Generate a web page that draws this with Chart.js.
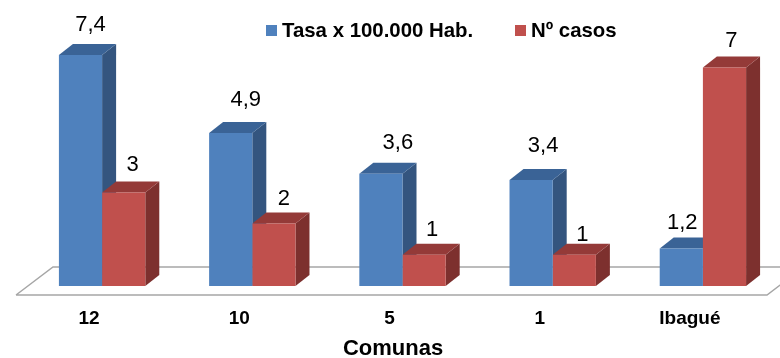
<!DOCTYPE html>
<html>
<head>
<meta charset="utf-8">
<title>Tasa por comuna</title>
<script src="https://cdn.jsdelivr.net/npm/chart.js@4"></script>
<style>
  html, body { margin: 0; padding: 0; background: #fff; }
  canvas { display: block; }
</style>
</head>
<body>
<canvas id="chart" width="780" height="358"></canvas>
<script>
const categories = ['12', '10', '5', '1', 'Ibagué'];
const tasa = [7.4, 4.9, 3.6, 3.4, 1.2];
const casos = [3, 2, 1, 1, 7];
const axisTitle = 'Comunas';

const FONT = '"Liberation Sans", Arial, sans-serif';
const DEPTH_X = 14;
const DEPTH_Y = 11;

// the labels were moved by hand in the original, so each one has its own nudge
const labelNudge = [
    [[10, -30], [9, -27]],
    [[15, -33], [10, -25]],
    [[17, -31], [8, -25]],
    [[12, -34], [8, -20]],
    [[1, -26], [7, -27]]
];

function poly(ctx, color, pts) {
    ctx.fillStyle = color;
    ctx.beginPath();
    pts.forEach((p, i) => i ? ctx.lineTo(p[0], p[1]) : ctx.moveTo(p[0], p[1]));
    ctx.closePath();
    ctx.fill();
}

const bars3d = {
    id: 'bars3d',
    // floor plane, then side and top faces. Chart.js paints the fronts over these
    beforeDatasetsDraw(chart) {
        const { ctx, chartArea } = chart;
        const y0 = chartArea.bottom + 9;
        const y1 = chartArea.bottom - 19;
        ctx.save();
        ctx.strokeStyle = '#a6a6a6';
        ctx.lineWidth = 1.5;
        ctx.beginPath();
        ctx.moveTo(chartArea.left - 11, y0);
        ctx.lineTo(chartArea.left + 26, y1);
        ctx.lineTo(chartArea.right + 30, y1);
        ctx.moveTo(chartArea.left - 11, y0);
        ctx.lineTo(chartArea.right - 11, y0);
        ctx.lineTo(chartArea.right + 26, y1);
        ctx.stroke();

        chart.data.datasets.forEach((ds, d) => {
            chart.getDatasetMeta(d).data.forEach(bar => {
                const { x, y, base, width } = bar.getProps(['x', 'y', 'base', 'width'], true);
                const l = x - width / 2;
                const r = x + width / 2;
                poly(ctx, ds.sideColor, [[r, y], [r + DEPTH_X, y - DEPTH_Y], [r + DEPTH_X, base - DEPTH_Y], [r, base]]);
                poly(ctx, ds.topColor, [[l, y], [l + DEPTH_X, y - DEPTH_Y], [r + DEPTH_X, y - DEPTH_Y], [r, y]]);
            });
        });
        ctx.restore();
    },
    afterDatasetsDraw(chart) {
        const ctx = chart.ctx;
        ctx.save();
        ctx.textAlign = 'center';
        ctx.textBaseline = 'middle';
        // value labels
        ctx.font = '22px ' + FONT;
        ctx.fillStyle = '#000';
        chart.data.datasets.forEach((ds, d) => {
            chart.getDatasetMeta(d).data.forEach((bar, i) => {
                const n = labelNudge[i][d];
                ctx.fillText(String(ds.data[i]).replace('.', ','), bar.x + n[0], bar.y + n[1]);
            });
        });
        // axis title sits left of the plot centre in the original
        ctx.font = 'bold 22px ' + FONT;
        ctx.fillText(axisTitle, 393, 349);
        // legend
        ctx.textAlign = 'left';
        ctx.font = 'bold 20.4px ' + FONT;
        [266, 515].forEach((x, d) => {
            const ds = chart.data.datasets[d];
            ctx.fillStyle = ds.backgroundColor;
            ctx.fillRect(x, 25, 11, 11);
            ctx.fillStyle = '#000';
            ctx.fillText(ds.label, x + 16, 31);
        });
        ctx.restore();
    }
};

new Chart(document.getElementById('chart'), {
    type: 'bar',
    plugins: [bars3d],
    data: {
        labels: categories,
        datasets: [{
            label: 'Tasa x 100.000 Hab.',
            data: tasa,
            backgroundColor: '#4f81bd',
            sideColor: '#34557f',
            topColor: '#3a6396'
        }, {
            label: 'Nº casos',
            data: casos,
            backgroundColor: '#c0504d',
            sideColor: '#7d302e',
            topColor: '#943a38'
        }]
    },
    options: {
        responsive: false,
        animation: false,
        layout: { padding: { top: 36.4, left: 27, right: 2, bottom: 0 } },
        categoryPercentage: 0.575,
        barPercentage: 1,
        plugins: {
            legend: { display: false },
            tooltip: { enabled: false }
        },
        scales: {
            x: {
                afterFit: s => { s.height = 72; },
                grid: { display: false },
                border: { display: false },
                ticks: {
                    color: '#000',
                    padding: 13,
                    labelOffset: -13,
                    maxRotation: 0,
                    font: { family: FONT, size: 19, weight: 'bold' }
                }
            },
            y: {
                display: false,
                min: 0,
                max: 8
            }
        }
    }
});
</script>
</body>
</html>
